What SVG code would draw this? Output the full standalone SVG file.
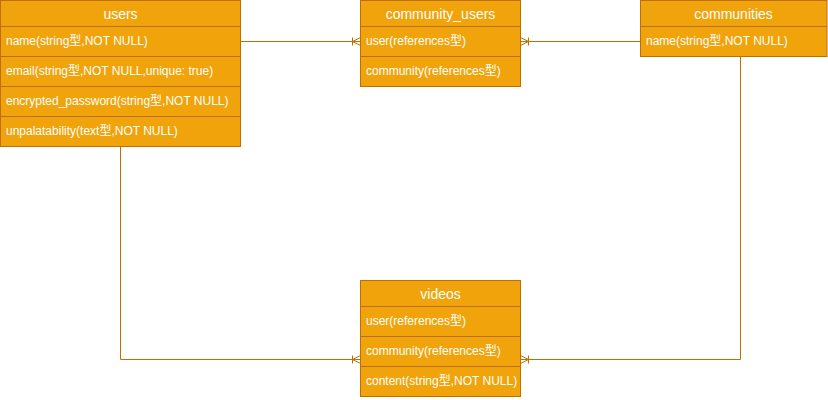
<svg xmlns="http://www.w3.org/2000/svg" width="828" height="400" viewBox="0 0 828 400">
<style>
.box{fill:#f0a30a;stroke:#BD7000;stroke-width:1}
.sep{stroke:#BD7000;stroke-width:1;fill:none}
.hd{font-family:"Liberation Sans",Arial,"Noto Sans CJK JP",sans-serif;font-size:14px;fill:#ffffff;text-anchor:middle}
.tx{font-family:"Liberation Sans",Arial,"Noto Sans CJK JP",sans-serif;font-size:12px;fill:#ffffff}
.ln{stroke:#BD7000;stroke-width:1;fill:none}
</style>
<defs>
<marker id="many" markerUnits="userSpaceOnUse" markerWidth="20" markerHeight="20" refX="10" refY="10" orient="auto" viewBox="0 0 20 20" overflow="visible">
<path d="M10,6 L2,10 L10,14 M2,6 L2,14" fill="none" stroke="#BD7000" stroke-width="1"/>
</marker>
</defs>
<rect width="828" height="400" fill="#ffffff"/>
<g id="connectors">
<path class="ln" d="M240.5,41.5 L360.5,41.5" marker-end="url(#many)"/>
<path class="ln" d="M640.5,41.5 L520.5,41.5" marker-end="url(#many)"/>
<path class="ln" d="M120.5,146.5 L120.5,359.5 L360.5,359.5" marker-end="url(#many)"/>
<path class="ln" d="M740.5,56.5 L740.5,359.5 L520.5,359.5" marker-end="url(#many)"/>
</g>
<g id="users">
<rect class="box" x="0.5" y="0.5" width="240" height="146"/>
<path class="sep" d="M0.5,26.5 H240.5 M0.5,56.5 H240.5 M0.5,86.5 H240.5 M0.5,116.5 H240.5"/>
<text class="hd" x="120.5" y="19">users</text>
<text class="tx" x="6" y="44.5">name(string型,NOT NULL)</text>
<text class="tx" x="6" y="74.5">email(string型,NOT NULL,unique: true)</text>
<text class="tx" x="6" y="104.5">encrypted_password(string型,NOT NULL)</text>
<text class="tx" x="6" y="134.5">unpalatability(text型,NOT NULL)</text>
</g>
<g id="community_users">
<rect class="box" x="360.5" y="0.5" width="160" height="86"/>
<path class="sep" d="M360.5,26.5 H520.5 M360.5,56.5 H520.5"/>
<text class="hd" x="440.5" y="19">community_users</text>
<text class="tx" x="366" y="44.5">user(references型)</text>
<text class="tx" x="366" y="74.5">community(references型)</text>
</g>
<g id="communities">
<rect class="box" x="640.5" y="0.5" width="186.5" height="56"/>
<path class="sep" d="M640.5,26.5 H827"/>
<text class="hd" x="733.5" y="19">communities</text>
<text class="tx" x="646" y="44.5">name(string型,NOT NULL)</text>
</g>
<g id="videos">
<rect class="box" x="360.5" y="280.5" width="160" height="116"/>
<path class="sep" d="M360.5,306.5 H520.5 M360.5,336.5 H520.5 M360.5,366.5 H520.5"/>
<text class="hd" x="440.5" y="299">videos</text>
<text class="tx" x="366" y="324.5">user(references型)</text>
<text class="tx" x="366" y="354.5">community(references型)</text>
<text class="tx" x="366" y="384.5">content(string型,NOT NULL)</text>
</g>
</svg>
